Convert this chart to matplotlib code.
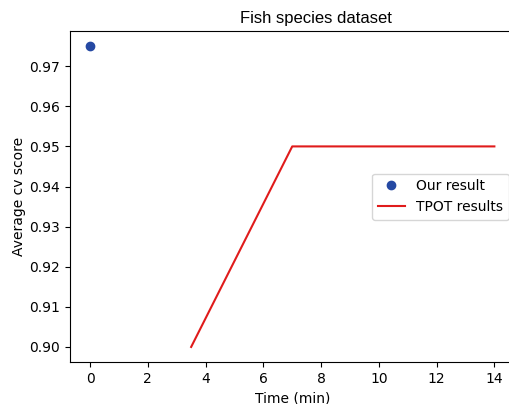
import matplotlib.pyplot as plt

our_time = [0]
our_score = [0.975]
tpot_time = [3.5, 7, 14]
tpot_score = [0.90, 0.95, 0.95]

fig = plt.figure(figsize=(5.1, 4.04), dpi=100)
ax = fig.add_axes([0.137, 0.104, 0.872, 0.819])

ax.plot(our_time, our_score, "o", color="#2549a3", markersize=6, label="Our result")
ax.plot(tpot_time, tpot_score, color="#e01b1b", linewidth=1.5, label="TPOT results")

ax.set_xticks(range(0, 15, 2))
ax.set_xlabel("Time (min)")
ax.set_ylabel("Average cv score", labelpad=2)
ax.set_title("Fish species dataset", family="Liberation Sans", fontsize=12, x=0.553)
ax.spines["right"].set_visible(False)
ax.legend(loc="center right", bbox_to_anchor=(1.003, 0.5))

fig.savefig("out.png", dpi=100)
